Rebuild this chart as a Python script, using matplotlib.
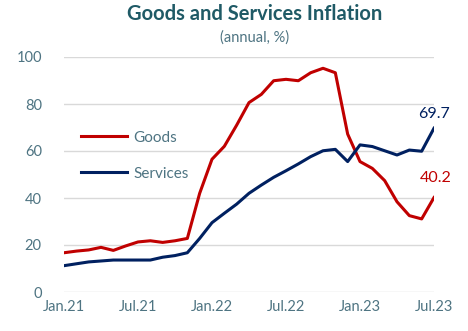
import matplotlib
matplotlib.use("Agg")
import matplotlib.pyplot as plt

# Dades (inflació anual, %)
mesos = list(range(31))  # Jan.21 ... Jul.23
etiquetes = ['Jan.21', 'Jul.21', 'Jan.22', 'Jul.22', 'Jan.23', 'Jul.23']
posicions = [0, 6, 12, 18, 24, 30]

goods = [16.7, 17.4, 17.9, 19.0, 17.7, 19.6, 21.3, 21.8, 21.1, 21.8, 22.8,
         42.0, 56.5, 62.0, 71.0, 80.6, 84.1, 89.9, 90.5, 89.9, 93.3, 95.2,
         93.3, 67.2, 55.5, 52.6, 47.4, 38.4, 32.5, 31.1, 40.2]
services = [11.2, 12.0, 12.8, 13.2, 13.6, 13.6, 13.6, 13.6, 14.8, 15.5, 16.7,
            22.8, 29.5, 33.5, 37.4, 42.0, 45.5, 48.8, 51.6, 54.5, 57.6, 60.1,
            60.7, 55.5, 62.6, 61.9, 60.1, 58.3, 60.4, 59.9, 69.7]

vermell = '#C00000'
blau = '#002060'
text_col = '#4E7482'

plt.rcParams['font.family'] = ['Lato', 'DejaVu Sans']

fig = plt.figure(figsize=(4.68, 3.31), dpi=100)
ax = fig.add_axes([64 / 468, 1 - 292 / 331, 370 / 468, 235 / 331])

ax.plot(mesos, goods, color=vermell, lw=2.2, label='Goods')
ax.plot(mesos, services, color=blau, lw=2.2, label='Services')

ax.set_xlim(0, 30)
ax.set_ylim(0, 100)
ax.set_yticks(range(0, 101, 20))
ax.set_xticks(posicions)
ax.set_xticklabels(etiquetes)
ax.grid(axis='y', color='#D9D9D9', lw=1)
ax.set_axisbelow(True)
for s in ax.spines.values():
    s.set_visible(False)
ax.tick_params(length=0, colors=text_col, labelsize=10.5)
ax.tick_params(axis='y', pad=16)
ax.tick_params(axis='x', pad=6)

ax.annotate(f'{services[-1]:.1f}', (30, services[-1]), xytext=(0, 10),
            textcoords='offset points', ha='center', va='center',
            color=blau, fontsize=11.5, annotation_clip=False)
ax.annotate(f'{goods[-1]:.1f}', (30, goods[-1]), xytext=(1, 14),
            textcoords='offset points', ha='center', va='center',
            color=vermell, fontsize=11.5, annotation_clip=False)

leg = ax.legend(loc='upper left', bbox_to_anchor=(0.01, 0.745), frameon=False,
                handlelength=3.0, labelspacing=1.45, handletextpad=0.4,
                fontsize=11)
for t in leg.get_texts():
    t.set_color(text_col)

fig.text(255 / 468, 1 - 14 / 331, 'Goods and Services Inflation', ha='center',
         va='center', fontsize=14.5, fontweight='bold', color='#1F5A66')
fig.text(255 / 468, 1 - 38 / 331, '(annual, %)', ha='center', va='center',
         fontsize=10.5, color=text_col)

fig.savefig('out.png', dpi=100)
